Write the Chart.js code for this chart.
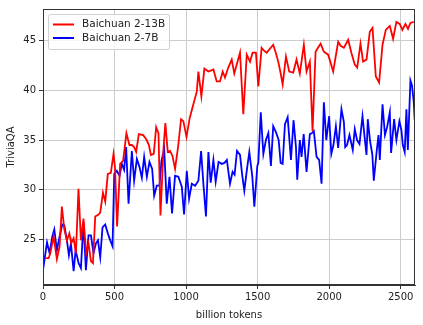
<!DOCTYPE html>
<html>
<head>
<meta charset="utf-8">
<script src="https://cdn.jsdelivr.net/npm/chart.js@4"></script>
<style>
  html, body { margin: 0; padding: 0; background: #fff; }
  #wrap { width: 423px; height: 325px; position: relative; }
</style>
</head>
<body>
<div id="wrap"><canvas id="chart" width="423" height="325"></canvas></div>
<script>
// Baichuan 2-13B (billion tokens, TriviaQA)
const tokens13b = [16, 39, 51, 74, 97, 116, 132, 149, 167, 184, 197, 214, 230, 248, 265, 283, 302, 318, 335, 349,
  365, 388, 400, 419, 435, 453, 474, 493, 503, 518, 539, 560, 583, 604, 621, 637, 651, 670, 700, 721,
  740, 754, 774, 791, 807, 821, 842, 855, 872, 888, 905, 923, 944, 965, 981, 1003, 1025, 1051, 1075, 1086,
  1107, 1128, 1156, 1191, 1214, 1237, 1256, 1272, 1295, 1319, 1337, 1358, 1377, 1400, 1424, 1447, 1465, 1488, 1505, 1528,
  1545, 1563, 1586, 1609, 1627, 1644, 1660, 1675, 1698, 1721, 1749, 1772, 1795, 1823, 1842, 1865, 1884, 1905, 1922, 1940,
  1963, 1993, 2010, 2028, 2063, 2080, 2103, 2133, 2155, 2179, 2196, 2219, 2237, 2261, 2284, 2303, 2326, 2349, 2373, 2396,
  2424, 2447, 2470, 2493, 2512, 2533, 2551, 2568, 2591]
const trivia13b = [23.1, 23.1, 23.6, 25.3, 23.0, 24.3, 28.3, 26.0, 24.9, 25.6, 24.6, 25.1, 23.6, 30.1, 24.9, 27.1, 23.6, 24.6, 22.8, 22.6,
  27.3, 27.5, 27.7, 29.7, 28.8, 31.6, 31.7, 33.6, 32.3, 26.3, 32.6, 32.9, 35.7, 34.5, 34.5, 34.3, 33.8, 35.6, 35.5, 35.1,
  34.5, 33.5, 33.6, 36.3, 35.7, 27.4, 34.1, 36.7, 33.8, 33.9, 33.4, 32.1, 34.3, 37.1, 36.9, 35.3, 37.2, 38.6, 39.9, 41.9,
  39.4, 42.2, 41.9, 42.1, 40.9, 40.9, 41.9, 41.3, 42.3, 43.1, 41.7, 42.8, 43.8, 37.6, 43.6, 42.9, 43.8, 43.8, 40.4, 44.3,
  44.0, 43.8, 44.2, 44.6, 43.8, 42.9, 41.8, 40.6, 43.4, 41.9, 41.8, 43.1, 41.7, 44.6, 41.9, 42.9, 35.9, 43.9, 44.3, 44.7,
  43.9, 43.6, 42.8, 41.9, 44.9, 44.5, 44.3, 45.1, 43.8, 42.6, 42.3, 44.7, 42.9, 43.1, 45.9, 46.3, 41.4, 40.8, 44.6, 46.1,
  46.5, 45.2, 46.9, 46.7, 46.1, 46.7, 46.2, 46.8, 46.9]

// Baichuan 2-7B
const tokens7b = [0, 28, 46, 65, 79, 97, 116, 135, 149, 167, 181, 195, 214, 228, 249, 265, 283, 300, 318, 335,
  353, 370, 384, 400, 416, 435, 453, 470, 486, 498, 516, 535, 551, 567, 581, 598, 621, 637, 656, 674,
  691, 707, 726, 744, 763, 777, 795, 814, 828, 847, 865, 884, 902, 923, 946, 970, 986, 1005, 1021, 1040,
  1063, 1086, 1105, 1121, 1139, 1156, 1172, 1191, 1207, 1227, 1250, 1268, 1285, 1307, 1325, 1339, 1356, 1377, 1392, 1407,
  1425, 1442, 1463, 1477, 1498, 1505, 1522, 1540, 1558, 1575, 1593, 1609, 1628, 1647, 1661, 1675, 1691, 1710, 1733, 1751,
  1768, 1777, 1795, 1807, 1822, 1842, 1865, 1880, 1893, 1912, 1930, 1947, 1963, 1980, 2000, 2015, 2030, 2047, 2063, 2086,
  2103, 2112, 2125, 2142, 2165, 2179, 2195, 2212, 2233, 2250, 2261, 2270, 2285, 2302, 2312, 2333, 2345, 2354, 2373, 2390,
  2405, 2424, 2433, 2454, 2470, 2491, 2505, 2515, 2528, 2540, 2550, 2568, 2579, 2591, 2598]
const trivia7b = [21.9, 24.7, 23.6, 25.3, 26.0, 23.9, 25.3, 26.5, 26.4, 24.9, 23.4, 24.6, 21.8, 23.9, 22.6, 22.1, 26.7, 21.9, 25.4, 25.4,
  23.6, 24.6, 24.9, 23.2, 26.2, 26.5, 25.6, 24.9, 24.3, 31.6, 31.9, 31.4, 32.6, 32.0, 34.3, 28.6, 33.9, 30.9, 33.1, 32.3,
  31.2, 33.3, 31.3, 32.8, 32.1, 29.4, 30.4, 30.4, 32.9, 34.1, 28.6, 31.3, 27.6, 31.4, 31.3, 30.3, 27.5, 31.9, 29.1, 30.6,
  30.4, 30.9, 33.9, 30.6, 27.3, 33.8, 30.7, 33.0, 30.8, 32.8, 32.6, 32.7, 33.0, 30.6, 31.8, 31.5, 33.9, 33.5, 31.5, 29.9,
  32.0, 33.8, 31.3, 28.3, 32.4, 32.7, 37.8, 33.6, 35.0, 35.7, 32.4, 36.4, 35.8, 35.0, 32.7, 32.6, 36.6, 37.3, 33.0, 37.0,
  34.3, 31.0, 35.0, 33.3, 35.6, 31.8, 35.6, 35.7, 35.9, 33.3, 33.0, 30.6, 38.8, 35.0, 37.4, 33.6, 34.5, 36.4, 34.2, 38.1,
  36.8, 34.3, 34.5, 35.5, 34.0, 36.1, 35.0, 34.6, 37.4, 35.0, 33.5, 37.1, 35.0, 33.5, 30.9, 34.0, 35.5, 33.0, 38.6, 35.5,
  36.3, 37.8, 33.7, 37.1, 35.0, 36.9, 36.0, 34.5, 33.8, 38.1, 34.0, 41.0, 40.5, 38.9, 37.0]

const xTicks = [0, 500, 1000, 1500, 2000, 2500]
const yTicks = [25, 30, 35, 40, 45]

const font = { family: 'DejaVu Sans', size: 10 }

function pairs(xs, ys) {
  return xs.map((x, i) => ({ x: x, y: ys[i] }))
}

// legend box in the upper left, plus the full frame around the plot
const boxLegend = {
  id: 'boxLegend',
  afterDraw(chart) {
    const ctx = chart.ctx
    const a = chart.chartArea
    ctx.save()
    ctx.strokeStyle = '#333'
    ctx.lineWidth = 1
    ctx.strokeRect(a.left + 0.5, a.top + 0.5, a.right - a.left - 1, a.bottom - a.top - 1)

    const x0 = a.left + 5, y0 = a.top + 5, w = 121, h = 35
    ctx.fillStyle = 'rgba(255,255,255,0.8)'
    ctx.strokeStyle = '#d0d0d0'
    ctx.beginPath()
    ctx.roundRect(x0 + 0.5, y0 + 0.5, w, h, 2)
    ctx.fill()
    ctx.stroke()

    ctx.font = '10.5px "DejaVu Sans"'
    ctx.textBaseline = 'middle'
    chart.data.datasets.forEach((ds, i) => {
      const yy = y0 + 10.5 + i * 13.5
      ctx.strokeStyle = ds.borderColor
      ctx.lineWidth = 2
      ctx.beginPath()
      ctx.moveTo(x0 + 5, yy)
      ctx.lineTo(x0 + 26, yy)
      ctx.stroke()
      ctx.fillStyle = '#222'
      ctx.fillText(ds.label, x0 + 34, yy)
    })
    ctx.restore()
  }
}

new Chart(document.getElementById('chart'), {
  type: 'line',
  data: {
    datasets: [
      {
        label: 'Baichuan 2-13B',
        data: pairs(tokens13b, trivia13b),
        borderColor: '#ff0000',
        borderWidth: 1.8,
        pointRadius: 0,
        tension: 0,
        fill: false,
      },
      {
        label: 'Baichuan 2-7B',
        data: pairs(tokens7b, trivia7b),
        borderColor: '#0000ff',
        borderWidth: 1.8,
        pointRadius: 0,
        tension: 0,
        fill: false,
      },
    ],
  },
  plugins: [boxLegend],
  options: {
    responsive: false,
    animation: false,
    layout: { padding: { left: 0, top: 7, right: 8, bottom: 0 } },
    plugins: { legend: { display: false }, tooltip: { enabled: false } },
    scales: {
      x: {
        type: 'linear',
        min: 0,
        max: 2600,
        afterBuildTicks: (s) => { s.ticks = xTicks.map(v => ({ value: v })) },
        afterFit: (s) => { s.height = 40 },
        ticks: { font: font, color: '#222', padding: 2, maxRotation: 0, callback: (v) => String(v) },
        grid: { color: '#cccccc', tickColor: '#333', tickLength: 4 },
        border: { color: '#333' },
        title: { display: true, text: 'billion tokens', font: font, color: '#222', padding: { top: 1 } },
      },
      y: {
        type: 'linear',
        min: 20.4,
        max: 48.2,
        afterBuildTicks: (s) => { s.ticks = yTicks.map(v => ({ value: v })) },
        afterFit: (s) => { s.width = 43 },
        ticks: { font: font, color: '#222', padding: 3, callback: (v) => String(v) },
        grid: { color: '#cccccc', tickColor: '#333', tickLength: 4 },
        border: { color: '#333' },
        title: { display: true, text: 'TriviaQA', font: font, color: '#222', padding: { top: 5, bottom: 0 } },
      },
    },
  },
})
</script>
</body>
</html>
